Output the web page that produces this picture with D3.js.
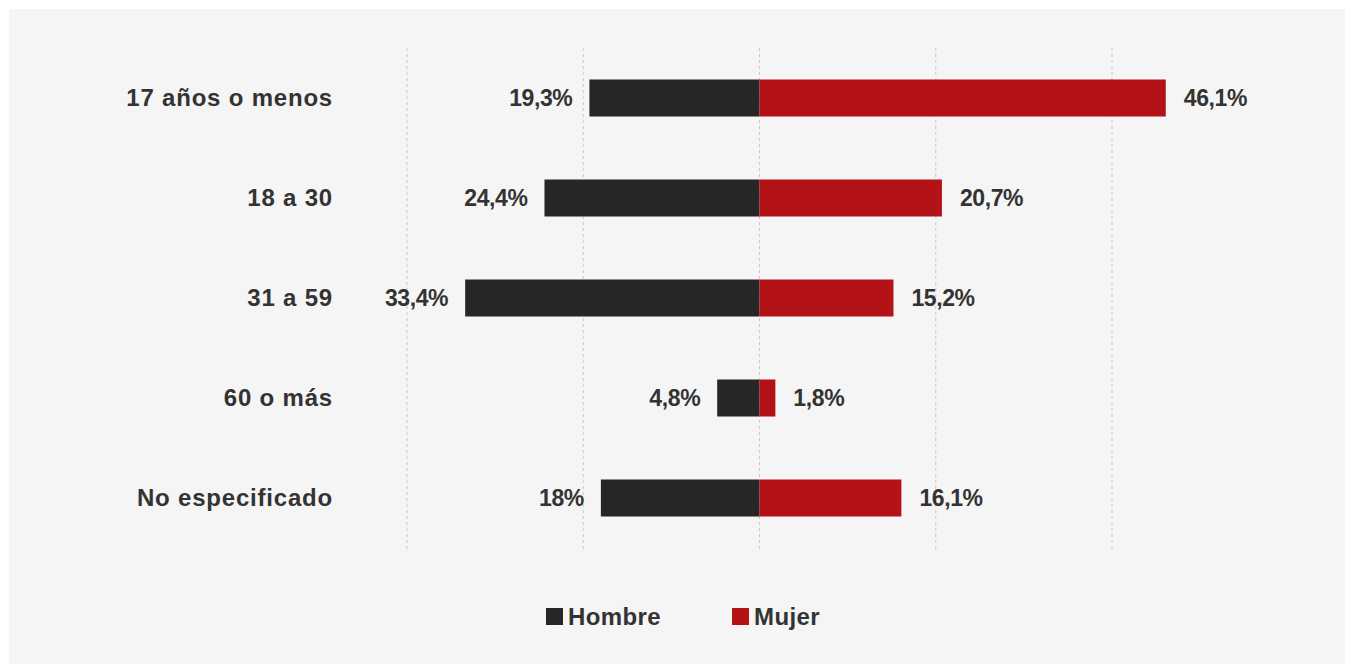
<!DOCTYPE html>
<html><head><meta charset="utf-8">
<script src="https://cdn.jsdelivr.net/npm/d3@7"></script>
<style>
html,body{margin:0;padding:0;background:#fff;}
svg text{font-family:"Liberation Sans",Arial,sans-serif;font-weight:700;fill:#333;}
</style></head>
<body>
<svg id="chart" width="1345" height="664"></svg>
<script>
const categories = ["17 años o menos","18 a 30","31 a 59","60 o más","No especificado"];
const hombre = [19.3, 24.4, 33.4, 4.8, 18];
const mujer = [46.1, 20.7, 15.2, 1.8, 16.1];
const hombreLabels = ["19,3%","24,4%","33,4%","4,8%","18%"];
const mujerLabels = ["46,1%","20,7%","15,2%","1,8%","16,1%"];
const gridTicks = [-40,-20,0,20,40];
const seriesNames = ["Hombre","Mujer"];
const colors = {Hombre:"#262626", Mujer:"#b31217"};

const svg = d3.select("#chart");
svg.append("rect").attr("x",9).attr("y",9).attr("width",1336).attr("height",655).attr("fill","#f5f5f5");

const x = d3.scaleLinear().domain([-40,40]).range([407,1112]);
const y = d3.scaleBand().domain(categories).range([48,548]).paddingInner(0.63).paddingOuter(0.315);

svg.append("g").selectAll("line").data(gridTicks).join("line")
  .attr("x1",d=>x(d)).attr("x2",d=>x(d)).attr("y1",48).attr("y2",549)
  .attr("stroke","#c8c8c8").attr("stroke-width",1).attr("stroke-dasharray","3,3");

const rows = categories.map((c,i)=>({c, h:hombre[i], m:mujer[i], hl:hombreLabels[i], ml:mujerLabels[i]}));

svg.append("g").selectAll("rect").data(rows).join("rect")
  .attr("x",d=>x(-d.h)).attr("width",d=>x(0)-x(-d.h))
  .attr("y",d=>y(d.c)).attr("height",y.bandwidth()).attr("fill",colors.Hombre);
svg.append("g").selectAll("rect").data(rows).join("rect")
  .attr("x",x(0)).attr("width",d=>x(d.m)-x(0))
  .attr("y",d=>y(d.c)).attr("height",y.bandwidth()).attr("fill",colors.Mujer);

svg.append("g").selectAll("text").data(rows).join("text")
  .attr("x",333).attr("y",d=>y(d.c)+y.bandwidth()/2).attr("dy","0.35em")
  .attr("text-anchor","end").style("font-size","24px").style("letter-spacing","0.8px")
  .text(d=>d.c);

svg.append("g").selectAll("text").data(rows).join("text")
  .attr("x",d=>x(-d.h)-17).attr("y",d=>y(d.c)+y.bandwidth()/2).attr("dy","0.35em")
  .attr("text-anchor","end").style("font-size","23px").style("letter-spacing","-0.4px")
  .text(d=>d.hl);
svg.append("g").selectAll("text").data(rows).join("text")
  .attr("x",d=>x(d.m)+18).attr("y",d=>y(d.c)+y.bandwidth()/2).attr("dy","0.35em")
  .attr("text-anchor","start").style("font-size","23px").style("letter-spacing","-0.4px")
  .text(d=>d.ml);

const legendX = [546, 732];
const lg = svg.append("g").selectAll("g").data(seriesNames).join("g")
  .attr("transform",(d,i)=>`translate(${legendX[i]},608)`);
lg.append("rect").attr("width",17).attr("height",17).attr("fill",d=>colors[d]);
lg.append("text").attr("x",22).attr("y",8.5).attr("dy","0.36em")
  .style("font-size","24px").style("letter-spacing","0.4px").text(d=>d);
</script>
</body></html>
